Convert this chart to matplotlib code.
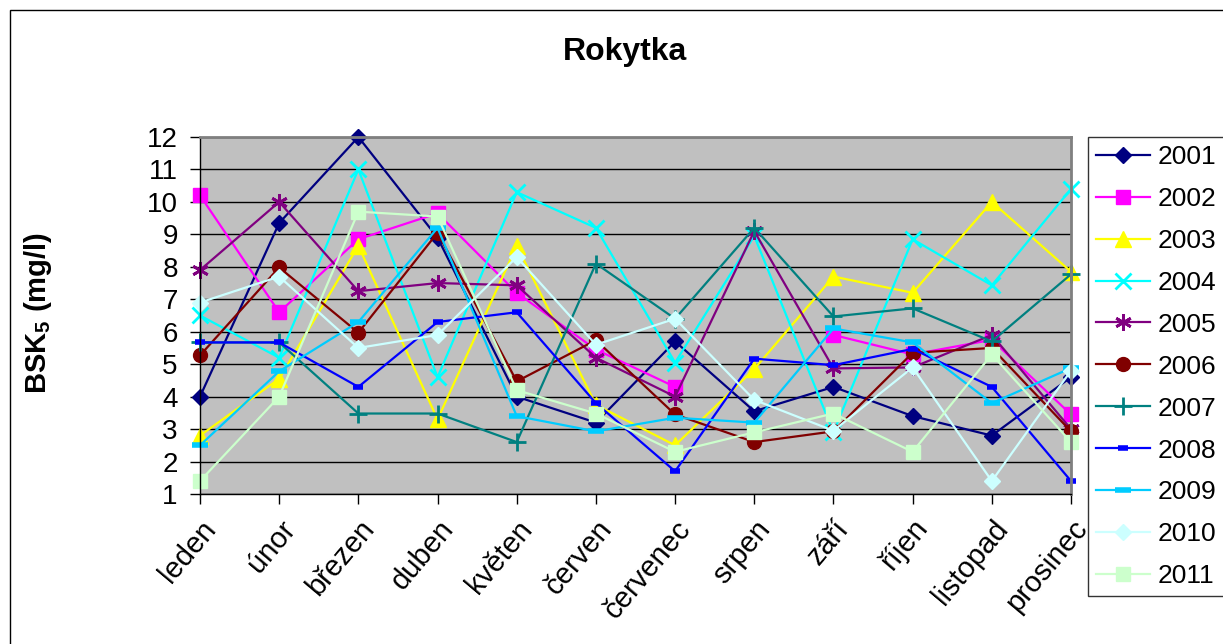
import numpy as np
import matplotlib.pyplot as plt
from matplotlib.patches import Rectangle

months = ['leden', 'únor', 'březen', 'duben', 'květen', 'červen',
          'červenec', 'srpen', 'září', 'říjen', 'listopad', 'prosinec']
years = ['2001', '2002', '2003', '2004', '2005', '2006',
         '2007', '2008', '2009', '2010', '2011']

nan = np.nan
bsk_2001 = [4.0, 9.35, 12.0, 8.9, 4.0, 3.2, 5.7, 3.55, 4.3, 3.4, 2.8, 4.6]
bsk_2002 = [10.2, 6.6, 8.85, 9.65, 7.2, 5.45, 4.3, nan, 5.9, 5.3, 5.75, 3.45]
bsk_2003 = [2.8, 4.55, 8.65, 3.3, 8.65, 3.75, 2.5, 4.85, 7.7, 7.2, 10.0, 7.85]
bsk_2004 = [6.5, 5.2, 11.0, 4.6, 10.3, 9.2, 5.05, 8.95, 2.9, 8.85, 7.43, 10.4]
bsk_2005 = [7.9, 10.0, 7.25, 7.5, 7.43, 5.2, 4.0, 9.1, 4.87, 4.9, 5.9, 3.0]
bsk_2006 = [5.27, 7.98, 5.97, 9.05, 4.47, 5.74, 3.45, 2.6, 2.93, 5.35, 5.5, 2.93]
bsk_2007 = [5.67, 5.67, 3.48, 3.48, 2.6, 8.1, 6.4, 9.2, 6.47, 6.72, 5.7, 7.77]
bsk_2008 = [5.67, 5.67, 4.3, 6.3, 6.6, 3.8, 1.7, 5.17, 4.97, 5.47, 4.3, 1.4]
bsk_2009 = [2.5, 4.78, 6.3, 9.2, 3.4, 2.93, 3.35, 3.2, 6.1, 5.67, 3.8, 4.88]
bsk_2010 = [6.9, 7.7, 5.5, 5.9, 8.3, 5.6, 6.4, 3.9, 2.95, 4.9, 1.4, 4.8]
bsk_2011 = [1.4, 4.0, 9.7, 9.55, 4.2, 3.48, 2.3, 2.9, 3.48, 2.3, 5.3, 2.6]

series = [bsk_2001, bsk_2002, bsk_2003, bsk_2004, bsk_2005, bsk_2006,
          bsk_2007, bsk_2008, bsk_2009, bsk_2010, bsk_2011]

# Excel-like styles per year: colour, marker, marker size, marker edge width
styles = [
    ('#000080', 'D', 8, 1),
    ('#FF00FF', 's', 10, 1),
    ('#FFFF00', '^', 11, 1),
    ('#00FFFF', 'x', 11, 2),
    ('#800080', (6, 2, 0), 12, 2),
    ('#800000', 'o', 10, 1),
    ('#008080', '+', 13, 2),
    ('#0000FF', '_', 7, 4),
    ('#00CCFF', '_', 11, 4),
    ('#CCFFFF', 'D', 8, 1),
    ('#CCFFCC', 's', 10, 1),
]

plt.rcParams['font.family'] = ['Liberation Sans', 'DejaVu Sans']

fig = plt.figure(figsize=(12.23, 6.44), dpi=100)
ax = fig.add_axes([200 / 1223, 1 - 494 / 644, 871 / 1223, 357 / 644])
ax.set_facecolor('#C0C0C0')

x = np.arange(len(months))
for label, vals, (col, mk, ms, mew) in zip(years, series, styles):
    ax.plot(x, vals, color=col, lw=1.6, marker=mk, ms=ms, mew=mew,
            mec=col, mfc=col, label=label, clip_on=False)

ax.set_xlim(0, 11)
ax.set_ylim(1, 12)
ax.set_yticks(range(1, 13))
ax.set_xticks(x)
ax.set_xticklabels(months, rotation=50, ha='right', va='top',
                   rotation_mode='anchor')
ax.tick_params(axis='both', labelsize=20, direction='out', length=7,
               width=1, color='black')
ax.tick_params(axis='x', labelsize=21, pad=8)
ax.tick_params(axis='y', pad=9)
ax.yaxis.grid(True, color='black', lw=1)
ax.set_axisbelow(True)
for s in ['top', 'right']:
    ax.spines[s].set_color('#808080')
    ax.spines[s].set_linewidth(2)
for s in ['left', 'bottom']:
    ax.spines[s].set_color('black')
    ax.spines[s].set_linewidth(1)

fig.text(625 / 1223, 1 - 52 / 644, 'Rokytka', ha='center', va='center',
         fontsize=23, fontweight='bold')
fig.text(38 / 1223, 1 - 313 / 644, r'BSK$_\mathregular{5}$ (mg/l)',
         rotation=90, ha='center', va='center', fontsize=21,
         fontweight='bold')

leg = fig.legend(loc='upper left', bbox_to_anchor=(1088 / 1223, 1 - 137 / 644),
                 fontsize=19, frameon=True, fancybox=False, edgecolor='black',
                 handlelength=2.05, labelspacing=0.68, borderpad=0.3,
                 handletextpad=0.3, borderaxespad=0)
leg.get_frame().set_linewidth(1)

# outer chart border
fig.patches.append(Rectangle((10 / 1223, -0.1), 1.2, 1.1 - 10 / 644,
                             transform=fig.transFigure, fill=False,
                             edgecolor='black', lw=1))

fig.savefig('out.png', dpi=100)
